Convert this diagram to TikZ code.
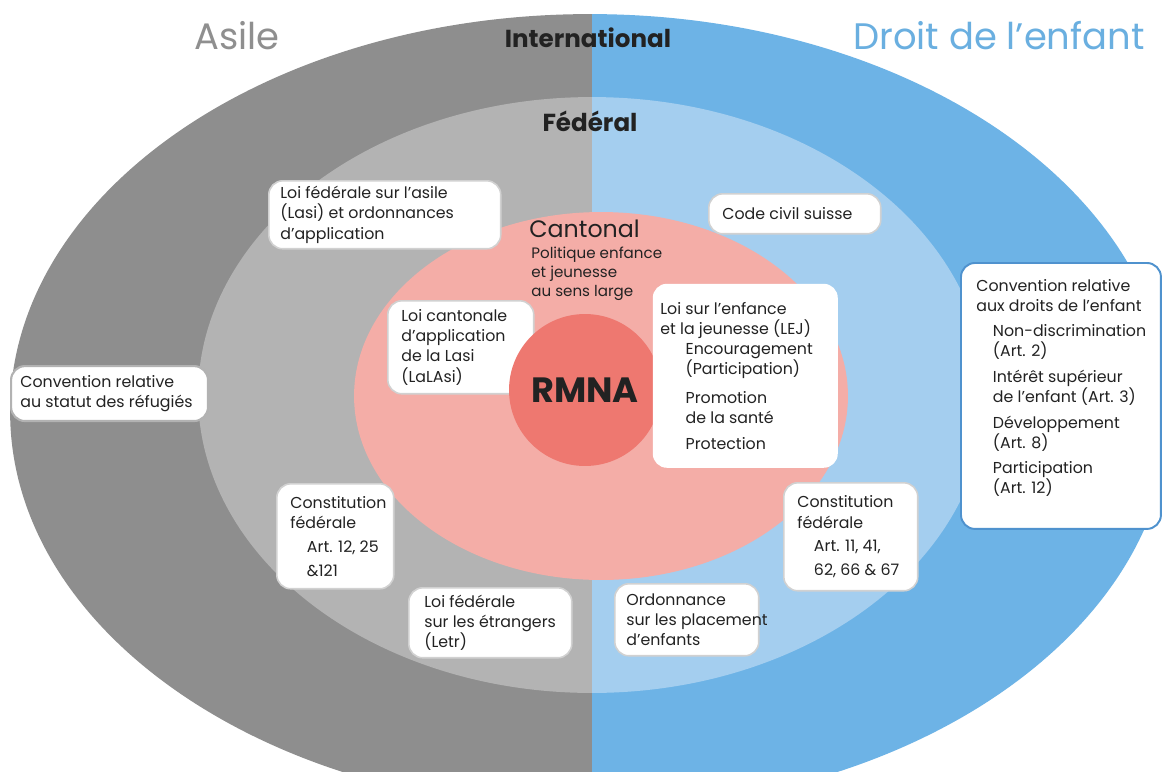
\documentclass[tikz,border=0pt]{standalone}
\usepackage{fontspec}
\setmainfont{Poppins}
\usetikzlibrary{calc}
\definecolor{dgray}{HTML}{8E8E8E}
\definecolor{lgray}{HTML}{B3B3B3}
\definecolor{dblue}{HTML}{6DB3E6}
\definecolor{lblue}{HTML}{A4CEEF}
\definecolor{pinkc}{HTML}{F4ADA7}
\definecolor{redc}{HTML}{EE7870}
\definecolor{txtc}{HTML}{222222}
\definecolor{asilec}{HTML}{8F8F8F}
\definecolor{droitc}{HTML}{6AAFE0}
\definecolor{cdeborder}{HTML}{4F92CE}
\tikzset{
  lawbox/.style={fill=white, draw=black!18, line width=0.9pt, rounded corners=8pt,
    inner sep=0pt, anchor=north west},
  boxtxt/.style={align=left, inner sep=0pt, text=txtc, anchor=west,
    font=\fontsize{9}{11.5}\selectfont},
  leveltxt/.style={inner sep=0pt, text=txtc, font=\bfseries\fontsize{14}{16}\selectfont},
  titletxt/.style={inner sep=0pt, font=\fontsize{21}{24}\selectfont},
}
\newcommand{\ind}{\hspace*{1.05em}}
\begin{document}
\begin{tikzpicture}[x=0.02cm, y=-0.02cm]
\useasboundingbox (0,0) rectangle (1162,771);
\clip (0,0) rectangle (1162,771);
\fill[white] (0,0) rectangle (1162,771);
% left halves
\begin{scope}
  \clip (0,0) rectangle (592,771);
  \fill[dgray] (590,412) ellipse [x radius=11.6cm, y radius=7.96cm];
  \fill[lgray] (592,395) ellipse [x radius=7.88cm, y radius=5.96cm];
\end{scope}
\begin{scope}
  \clip (592,0) rectangle (1162,771);
  \fill[dblue] (590,412) ellipse [x radius=11.6cm, y radius=7.96cm];
  \fill[lblue] (592,395) ellipse [x radius=7.88cm, y radius=5.96cm];
\end{scope}
\fill[pinkc] (601,396) ellipse [x radius=4.94cm, y radius=3.68cm];

% titles and level labels
\node[titletxt, text=asilec] (asile) at (237,36) {Asile};
\node[titletxt, text=droitc, anchor=east] (droit) at (1145,36) {Droit de l’enfant};
\node[leveltxt] (intl) at (588,38) {International};
\node[leveltxt] (fed) at (590,121) {Fédéral};
\node[inner sep=0pt, text=txtc, font=\fontsize{13.5}{15}\selectfont, anchor=west] (canton) at (529,229) {Cantonal};
\node[inner sep=0pt, text=txtc, align=left, anchor=north west,
  font=\fontsize{8.6}{10.6}\selectfont] (polit) at (531,247) {Politique enfance\\et jeunesse\\au sens large};

% boxes
\node[lawbox, minimum width=4.64cm, minimum height=1.36cm] (lasi) at (268,180) {};
\node[boxtxt] (lasit) at ($(lasi.west)+(12,0)$) {Loi fédérale sur l’asile\\(Lasi) et ordonnances\\d’application};

\node[lawbox, minimum width=3.44cm, minimum height=0.80cm] (ccs) at (708,193) {};
\node[boxtxt] (ccst) at ($(ccs.west)+(14,0)$) {Code civil suisse};

\node[lawbox, draw=cdeborder, line width=1.1pt, minimum width=4.00cm, minimum height=5.32cm] (cde) at (960,262) {};
\node[boxtxt] (cdet) at ($(cde.west)+(16,-8)$) {Convention relative\\aux droits de l’enfant\\[3pt]
\ind Non-discrimination\\\ind (Art. 2)\\[3pt]
\ind Intérêt supérieur\\\ind de l’enfant (Art. 3)\\[3pt]
\ind Développement\\\ind (Art. 8)\\[3pt]
\ind Participation\\\ind (Art. 12)};

\node[lawbox, draw=black!30, line width=1.2pt, minimum width=3.94cm, minimum height=1.10cm] (refu) at (10,365) {};
\node[boxtxt] (refut) at ($(refu.west)+(10,0)$) {Convention relative\\au statut des réfugiés};

\node[lawbox, minimum width=2.92cm, minimum height=1.86cm] (lalasi) at (387,300) {};
\node[boxtxt] (lalasit) at ($(lalasi.west)+(14,0)$) {Loi cantonale\\d’application\\de la Lasi\\(LaLAsi)};

% central circle
\node[circle, fill=redc, minimum size=3.04cm, inner sep=0pt, text=txtc,
  font=\bfseries\fontsize{20}{22}\selectfont] (rmna) at (585,390) {RMNA};

\node[lawbox, draw=none, minimum width=3.70cm, minimum height=3.68cm] (lej) at (652,283) {};
\node[boxtxt] (lejt) at ($(lej.west)+(8,0)$) {Loi sur l’enfance\\et la jeunesse (LEJ)\\
\hspace*{1.6em}Encouragement\\\hspace*{1.6em}(Participation)\\[5pt]
\hspace*{1.6em}Promotion\\\hspace*{1.6em}de la santé\\[3pt]
\hspace*{1.6em}Protection};

\node[lawbox, minimum width=2.34cm, minimum height=2.10cm] (constl) at (276,483) {};
\node[boxtxt] (constlt) at ($(constl.west)+(14,0)$) {Constitution\\fédérale\\[2pt]
\ind Art. 12, 25\\[2pt]\ind \&121};

\node[lawbox, minimum width=3.26cm, minimum height=1.40cm] (letr) at (408,587) {};
\node[boxtxt] (letrt) at ($(letr.west)+(16,0)$) {Loi fédérale\\sur les étrangers\\(Letr)};

\node[lawbox, minimum width=2.88cm, minimum height=1.44cm] (ordo) at (614,583) {};
\node[boxtxt] (ordot) at ($(ordo.west)+(12,0)$) {Ordonnance\\sur les placement\\d’enfants};

\node[lawbox, minimum width=2.68cm, minimum height=2.16cm] (constr) at (783,482) {};
\node[boxtxt] (constrt) at ($(constr.west)+(14,0)$) {Constitution\\fédérale\\[2pt]
\ind Art. 11, 41,\\[2pt]\ind 62, 66 \& 67};
\end{tikzpicture}
\end{document}
